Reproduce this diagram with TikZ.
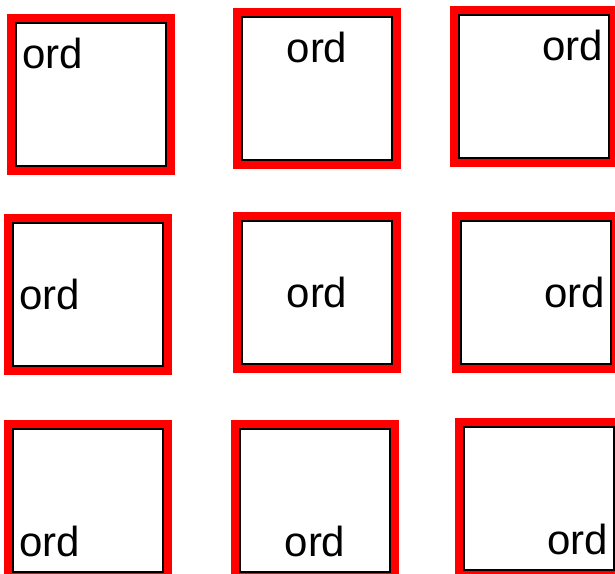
\documentclass[tikz,border=0pt]{standalone}
\usepackage{fontspec}
\setmainfont{Liberation Sans}
\usepackage{xcolor}
\usepackage{tikz}

\tikzset{
  redbox/.style={draw=red, line width=8pt, outer sep=0pt, inner sep=0pt, minimum width=160pt, minimum height=153pt, anchor=north west},
  innerline/.style={draw=black, line width=2pt},
  ordlbl/.style={inner xsep=11pt, inner ysep=20pt, font=\fontsize{42}{48}\selectfont}
}

\begin{document}
\begin{tikzpicture}[x=1pt, y=-1pt]
    \useasboundingbox (0,0) rectangle (615,573);
    % top row
    \node[redbox] (tl) at (11,18) {};
    \draw[innerline] ([xshift=5pt,yshift=-5pt]tl.north west) rectangle ([xshift=-5pt,yshift=5pt]tl.south east);
    \node[ordlbl, anchor=north west] (tl-ord) at (tl.north west) {ord};
    \node[redbox] (tm) at (237,12) {};
    \draw[innerline] ([xshift=5pt,yshift=-5pt]tm.north west) rectangle ([xshift=-5pt,yshift=5pt]tm.south east);
    \node[ordlbl, anchor=north] (tm-ord) at (tm.north) {ord};
    \node[redbox] (tr) at (454,10) {};
    \draw[innerline] ([xshift=5pt,yshift=-5pt]tr.north west) rectangle ([xshift=-5pt,yshift=5pt]tr.south east);
    \node[ordlbl, anchor=north east] (tr-ord) at (tr.north east) {ord};
    % middle row
    \node[redbox] (ml) at (8,218) {};
    \draw[innerline] ([xshift=5pt,yshift=-5pt]ml.north west) rectangle ([xshift=-5pt,yshift=5pt]ml.south east);
    \node[ordlbl, anchor=west] (ml-ord) at (ml.west) {ord};
    \node[redbox] (mm) at (237,216) {};
    \draw[innerline] ([xshift=5pt,yshift=-5pt]mm.north west) rectangle ([xshift=-5pt,yshift=5pt]mm.south east);
    \node[ordlbl] (mm-ord) at (mm.center) {ord};
    \node[redbox] (mr) at (456,216) {};
    \draw[innerline] ([xshift=5pt,yshift=-5pt]mr.north west) rectangle ([xshift=-5pt,yshift=5pt]mr.south east);
    \node[ordlbl, anchor=east] (mr-ord) at (mr.east) {ord};
    % bottom row
    \node[redbox] (bl) at (8,424) {};
    \draw[innerline] ([xshift=5pt,yshift=-5pt]bl.north west) rectangle ([xshift=-5pt,yshift=5pt]bl.south east);
    \node[ordlbl, anchor=south west] (bl-ord) at (bl.south west) {ord};
    \node[redbox] (bm) at (235,424) {};
    \draw[innerline] ([xshift=5pt,yshift=-5pt]bm.north west) rectangle ([xshift=-5pt,yshift=5pt]bm.south east);
    \node[ordlbl, anchor=south] (bm-ord) at (bm.south) {ord};
    \node[redbox] (br) at (459,422) {};
    \draw[innerline] ([xshift=5pt,yshift=-5pt]br.north west) rectangle ([xshift=-5pt,yshift=5pt]br.south east);
    \node[ordlbl, anchor=south east] (br-ord) at (br.south east) {ord};
\end{tikzpicture}
\end{document}
